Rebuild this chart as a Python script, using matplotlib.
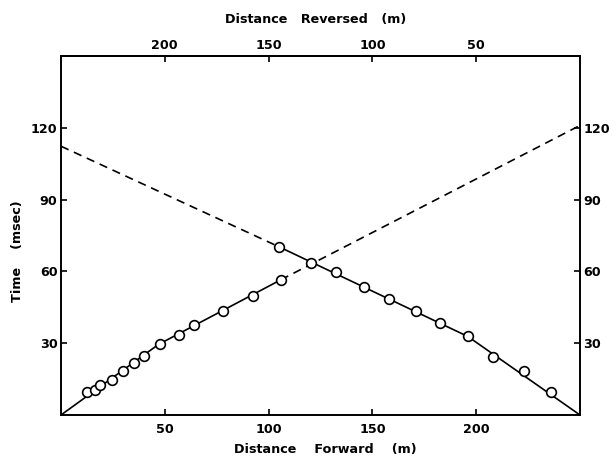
import matplotlib
matplotlib.use("Agg")
import matplotlib.pyplot as plt

# Data
fwd_x = [12.6, 16.2, 18.6, 24.7, 29.9, 35.0, 40.0, 47.6, 56.8, 64.0, 78.0, 92.4, 105.9]
fwd_t = [9.5, 10.5, 12.6, 14.6, 18.5, 21.9, 24.8, 29.7, 33.5, 37.4, 43.3, 49.8, 56.5]
rev_x = [105.2, 120.4, 132.5, 145.8, 158.1, 171.1, 182.7, 196.2, 208.3, 222.8, 236.0]
rev_t = [70.2, 63.5, 59.6, 53.3, 48.4, 43.5, 38.6, 32.8, 24.4, 18.5, 9.8]

# travel-time fit lines
fwd_solid_x = [0, 47.0, 105.9]
fwd_solid_t = [0, 29.5, 56.5]
fwd_dash_x = [105.9, 250]
fwd_dash_t = [56.5, 121.0]
rev_solid_x = [105.2, 196.0, 250]
rev_solid_t = [70.2, 32.8, 0]
rev_dash_x = [0, 105.2]
rev_dash_t = [112.3, 70.2]

x_ticks = [50, 100, 150, 200]
y_ticks = [30, 60, 90, 120]
total_len = 250

fig = plt.figure(figsize=(6.16, 4.59), dpi=100)
ax = fig.add_axes([61/616, 1 - 415/459, (580-61)/616, (415-56)/459])

lw = 1.2
ax.plot(fwd_solid_x, fwd_solid_t, color="black", lw=lw, zorder=2)
ax.plot(rev_solid_x, rev_solid_t, color="black", lw=lw, zorder=2)
ax.plot(fwd_dash_x, fwd_dash_t, color="black", lw=lw, dashes=(5.0, 3.5), zorder=2)
ax.plot(rev_dash_x, rev_dash_t, color="black", lw=lw, dashes=(5.0, 3.5), zorder=2)
mk = dict(ls="none", marker="o", ms=7, mfc="white", mec="black", mew=1.2, zorder=3)
ax.plot(fwd_x, fwd_t, **mk)
ax.plot(rev_x, rev_t, **mk)

ax.set_xlim(0, total_len)
ax.set_ylim(0, 150)
for s in ax.spines.values():
    s.set_linewidth(1.4)

fs = 9.2
fw = "bold"
ax.set_xticks(x_ticks)
ax.set_xticklabels([str(v) for v in x_ticks], fontsize=fs, fontweight=fw)
ax.set_yticks(y_ticks)
ax.set_yticklabels([str(v) for v in y_ticks], fontsize=fs, fontweight=fw)
ax.tick_params(axis="both", direction="in", length=4, width=1.2,
               left=True, right=True, bottom=True, top=False,
               labelleft=True, labelright=True)
ax.tick_params(axis="x", pad=6)
ax.tick_params(axis="y", pad=4)
for t in ax.yaxis.get_major_ticks():
    t.label2.set_fontweight(fw)
    t.label2.set_fontsize(fs)
    t.label2.set_x(1.0)
ax.yaxis.set_tick_params(which="major", pad=2.5, labelright=True, labelleft=False)
# separate pads: left labels via twin handling
for t in ax.yaxis.get_major_ticks():
    t.label1.set_visible(True)

secx = ax.secondary_xaxis("top", functions=(lambda x: total_len - x, lambda r: total_len - r))
secx.set_xticks([200, 150, 100, 50])
secx.set_xticklabels(["200", "150", "100", "50"], fontsize=fs, fontweight=fw)
secx.tick_params(direction="in", length=4, width=1.2, pad=3)
secx.spines["top"].set_linewidth(1.4)

fig.text(325/616, 1 - 450/459, "Distance    Forward    (m)", ha="center", va="center",
         fontsize=fs, fontweight=fw)
fig.text(316/616, 1 - 20/459, "Distance   Reversed   (m)", ha="center", va="center",
         fontsize=fs, fontweight=fw)
fig.text(18/616, 1 - 251/459, "Time    (msec)", ha="center", va="center", rotation=90,
         fontsize=fs, fontweight=fw)

fig.savefig("out.png", dpi=100)
